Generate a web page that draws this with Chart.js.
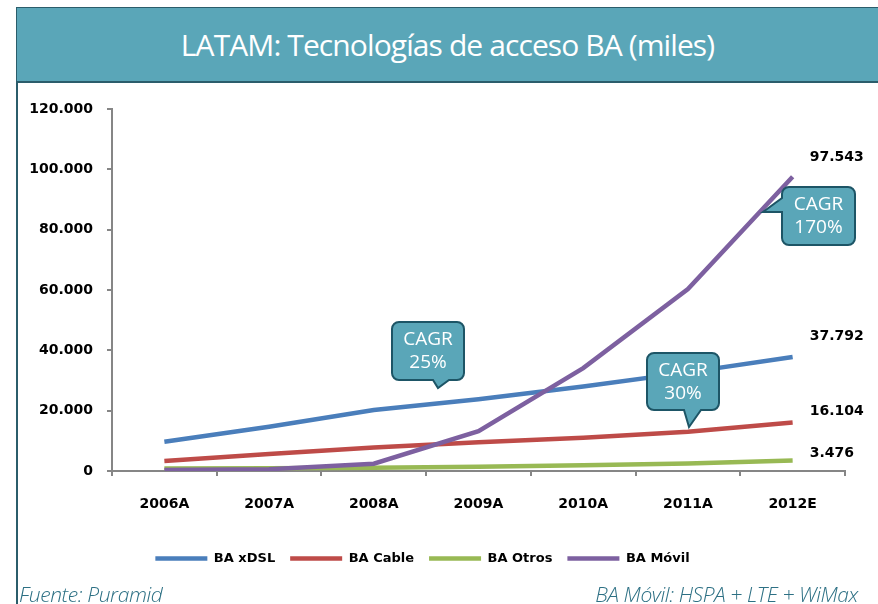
<!DOCTYPE html>
<html>
<head>
<meta charset="utf-8">
<script src="https://cdn.jsdelivr.net/npm/chart.js@4.4.1/dist/chart.umd.min.js"></script>
<style>
  body { margin: 0; width: 878px; height: 604px; position: relative; overflow: hidden; background: #fff; font-family: 'Open Sans', sans-serif; }
  #frame { position: absolute; left: 16px; top: 7px; width: 2px; height: 597px; background: #2b5d6b; }
  #banner { position: absolute; left: 17px; top: 7px; right: 0; height: 73px; background: #5aa6b8;
            border-top: 1px solid #2b5d6b; border-bottom: 2px solid #2b5d6b; color: #fff;
            font-size: 30px; text-align: center; line-height: 73px; letter-spacing: -0.9px; }
  #wrap { position: absolute; left: 0; top: 0; width: 878px; height: 604px; }
  .foot { position: absolute; top: 580px; font-style: italic; font-weight: 300; font-size: 21px; color: #2d7084; letter-spacing: -0.4px; }
</style>
</head>
<body>
<div id="frame"></div>
<div id="banner">LATAM: Tecnologías de acceso BA (miles)</div>
<div id="wrap"><canvas id="chart"></canvas></div>
<div class="foot" style="left:19px">Fuente: Puramid</div>
<div class="foot" style="right:20px">BA Móvil: HSPA + LTE + WiMax</div>
<script>
// data (miles)
const years = ['2006A', '2007A', '2008A', '2009A', '2010A', '2011A', '2012E'];
const xdsl = [9700, 14700, 20200, 23800, 28000, 32700, 37792];
const cable = [3300, 5600, 7800, 9500, 11000, 13000, 16104];
const otros = [800, 900, 1100, 1400, 1900, 2500, 3476];
const movil = [300, 600, 2400, 13200, 34100, 60300, 97543];
const names = ['BA xDSL', 'BA Cable', 'BA Otros', 'BA Móvil'];
const colors = ['#4a7ebb', '#be4b48', '#98b954', '#7d60a0'];

// vertical nudge of the end labels, like the hand-placed ones in the original
const labelShift = [-21, -11, -7, -19];

// CAGR callouts (page pixels)
const callouts = [
  { lines: ['CAGR', '25%'], x: 392, y: 322, w: 72, h: 58, side: 'bottom', b1: 433, b2: 449, tx: 438, ty: 388 },
  { lines: ['CAGR', '30%'], x: 647, y: 353, w: 72, h: 57, side: 'bottom', b1: 684, b2: 701, tx: 689, ty: 427 },
  { lines: ['CAGR', '170%'], x: 782, y: 187, w: 73, h: 58, side: 'left', b1: 198, b2: 212, tx: 763, ty: 212 }
];

function fmt(v) {
  return String(v).replace(/\B(?=(\d{3})+(?!\d))/g, '.');
}

const endLabels = {
  id: 'endLabels',
  afterDatasetsDraw(chart) {
    const ctx = chart.ctx;
    ctx.save();
    ctx.font = 'bold 14px "DejaVu Sans"';
    ctx.fillStyle = '#000';
    ctx.textBaseline = 'middle';
    chart.data.datasets.forEach((ds, i) => {
      const last = ds.data.length - 1;
      const pt = chart.getDatasetMeta(i).data[last];
      ctx.fillText(fmt(ds.data[last]), pt.x + 17, pt.y + labelShift[i]);
    });
    ctx.restore();
  }
};

function calloutPath(ctx, c) {
  const r = 7, x = c.x, y = c.y, w = c.w, h = c.h;
  ctx.beginPath();
  ctx.moveTo(x + r, y);
  ctx.lineTo(x + w - r, y);
  ctx.arcTo(x + w, y, x + w, y + r, r);
  ctx.lineTo(x + w, y + h - r);
  ctx.arcTo(x + w, y + h, x + w - r, y + h, r);
  if (c.side === 'bottom') {
    ctx.lineTo(c.b2, y + h);
    ctx.lineTo(c.tx, c.ty);
    ctx.lineTo(c.b1, y + h);
  }
  ctx.lineTo(x + r, y + h);
  ctx.arcTo(x, y + h, x, y + h - r, r);
  if (c.side === 'left') {
    ctx.lineTo(x, c.b2);
    ctx.lineTo(c.tx, c.ty);
    ctx.lineTo(x, c.b1);
  }
  ctx.lineTo(x, y + r);
  ctx.arcTo(x, y, x + r, y, r);
  ctx.closePath();
}

const calloutPlugin = {
  id: 'callouts',
  afterDatasetsDraw(chart) {
    const ctx = chart.ctx;
    ctx.save();
    callouts.forEach(c => {
      calloutPath(ctx, c);
      ctx.fillStyle = '#5aa6b8';
      ctx.fill();
      ctx.lineWidth = 2;
      ctx.strokeStyle = '#1d5566';
      ctx.stroke();
      ctx.fillStyle = '#fff';
      ctx.font = '19px "Open Sans"';
      ctx.textAlign = 'center';
      ctx.textBaseline = 'middle';
      ctx.fillText(c.lines[0], c.x + c.w / 2, c.y + c.h / 2 - 11);
      ctx.fillText(c.lines[1], c.x + c.w / 2, c.y + c.h / 2 + 12);
    });
    ctx.restore();
  }
};

const series = [xdsl, cable, otros, movil];

new Chart(document.getElementById('chart'), {
  type: 'line',
  data: {
    labels: years,
    datasets: series.map((d, i) => ({
      label: names[i],
      data: d,
      borderColor: colors[i],
      backgroundColor: colors[i],
      borderWidth: 4.5,
      pointRadius: 0,
      tension: 0,
      order: 4 - i
    }))
  },
  options: {
    responsive: true,
    maintainAspectRatio: false,
    animation: false,
    layout: { padding: { left: 0, right: 33, top: 109, bottom: 29 } },
    plugins: {
      tooltip: { enabled: false },
      legend: {
        position: 'bottom',
        labels: {
          usePointStyle: true,
          pointStyle: 'line',
          pointStyleWidth: 52,
          boxHeight: 4,
          padding: 15,
          color: '#000',
          font: { family: 'DejaVu Sans', size: 13, weight: 'bold' },
          sort: (a, b) => a.datasetIndex - b.datasetIndex
        }
      }
    },
    scales: {
      x: {
        offset: true,
        afterFit(scale) { scale.height = 66; },
        grid: { offset: true, drawOnChartArea: false, drawTicks: true, tickLength: 5, color: '#868686', lineWidth: 2 },
        border: { color: '#868686', width: 2 },
        ticks: { color: '#000', padding: 20, font: { family: 'DejaVu Sans', size: 14, weight: 'bold' } }
      },
      y: {
        min: 0,
        max: 120000,
        afterFit(scale) { scale.width = 112; },
        grid: { drawOnChartArea: false, drawTicks: true, tickLength: 5, color: '#868686', lineWidth: 2 },
        border: { color: '#868686', width: 2 },
        ticks: { stepSize: 20000, color: '#000', padding: 14, font: { family: 'DejaVu Sans', size: 14, weight: 'bold' },
                 callback: v => fmt(v) }
      }
    }
  },
  plugins: [endLabels, calloutPlugin]
});
</script>
</body>
</html>
